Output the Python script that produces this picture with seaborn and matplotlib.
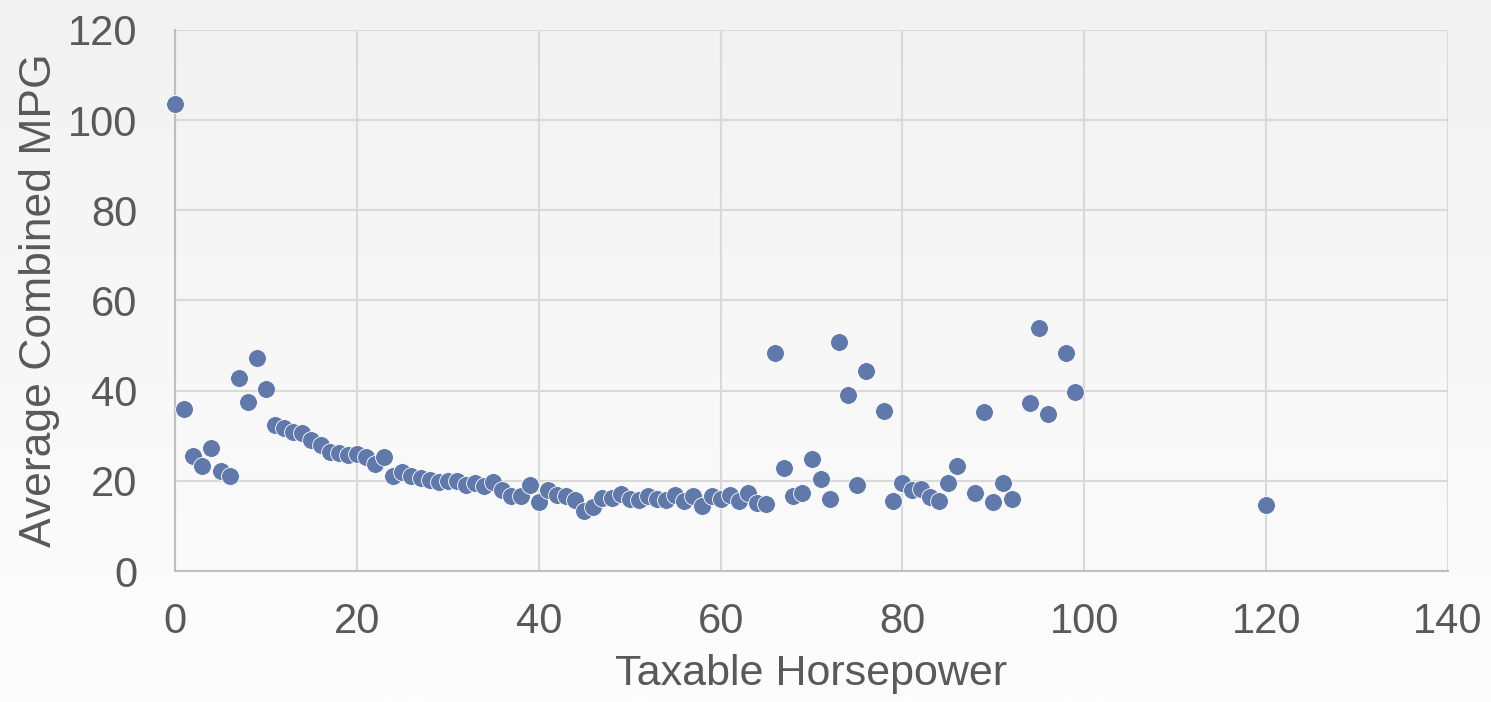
import numpy as np
import pandas as pd
import matplotlib.pyplot as plt
import seaborn as sns

# taxable horsepower vs average combined mpg
horsepower = [0, 1, 2, 3, 4, 5, 6, 7, 8, 9, 10, 11, 12, 13, 14, 15, 16, 17, 18, 19,
              20, 21, 22, 23, 24, 25, 26, 27, 28, 29, 30, 31, 32, 33, 34, 35, 36, 37, 38, 39,
              40, 41, 42, 43, 44, 45, 46, 47, 48, 49, 50, 51, 52, 53, 54, 55, 56, 57, 58, 59,
              60, 61, 62, 63, 64, 65, 66, 67, 68, 69, 70, 71, 72, 73, 74, 75, 76, 78, 79,
              80, 81, 82, 83, 84, 85, 86, 88, 89, 90, 91, 92, 94, 95, 96, 98, 99, 120]
mpg = [103.6, 35.9, 25.5, 23.2, 27.2, 22.1, 21.0, 42.7, 37.4, 47.2,
       40.3, 32.3, 31.7, 30.8, 30.6, 29.0, 27.9, 26.3, 26.1, 25.7,
       25.9, 25.2, 23.7, 25.2, 21.0, 21.9, 21.0, 20.6, 20.1, 19.7,
       19.9, 19.9, 19.0, 19.5, 18.8, 19.7, 17.9, 16.6, 16.6, 19.0,
       15.3, 17.9, 16.8, 16.6, 15.7, 13.3, 14.2, 16.2, 16.2, 17.0,
       15.9, 15.7, 16.6, 15.9, 15.7, 16.8, 15.5, 16.6, 14.4, 16.6,
       15.9, 16.8, 15.5, 17.3, 15.1, 14.8, 48.3, 22.8, 16.6, 17.3,
       24.8, 20.4, 15.9, 50.9, 39.0, 19.0, 44.3, 35.4, 15.5,
       19.5, 17.9, 18.2, 16.4, 15.5, 19.5, 23.2, 17.3, 35.2, 15.3,
       19.5, 15.9, 37.2, 53.8, 34.8, 48.3, 39.8, 14.6]

df = pd.DataFrame({"hp": horsepower, "mpg": mpg})

sns.set_theme(style="white")
plt.rcParams['font.family'] = ['Liberation Sans', 'DejaVu Sans']

fig = plt.figure(figsize=(14.91, 7.02), dpi=100)

# light vertical gradient behind everything
bg = fig.add_axes([0, 0, 1, 1], zorder=-1)
grad = np.linspace(0, 1, 256).reshape(-1, 1)
bg.imshow(grad, aspect="auto", cmap=plt.matplotlib.colors.LinearSegmentedColormap.from_list(
    "bg", ["#f2f2f2", "#fdfdfd"]), extent=[0, 1, 0, 1], origin="upper")
bg.axis("off")

ax = fig.add_axes([0.1174, 0.1866, 0.8538, 0.7707])
ax.set_facecolor("none")

sns.scatterplot(data=df, x="hp", y="mpg", ax=ax, color="#6078aa",
                s=165, linewidth=0.6, edgecolor="white", zorder=3, clip_on=False)

ax.set_xlim(0, 140)
ax.set_ylim(0, 120)
ax.set_xticks(range(0, 141, 20))
ax.set_yticks(range(0, 121, 20))
ax.grid(True, color="#d9d9d9", linewidth=1.5)
ax.set_axisbelow(True)

for side in ["top", "right"]:
    ax.spines[side].set_visible(False)
for side in ["left", "bottom"]:
    ax.spines[side].set_color("#bfbfbf")
    ax.spines[side].set_linewidth(1.5)

ax.tick_params(axis="both", labelsize=30, colors="#595959", length=0)
ax.tick_params(axis="x", pad=22)
ax.tick_params(axis="y", pad=27)
ax.set_xlabel("Taxable Horsepower", fontsize=31, color="#595959", labelpad=9)
ax.set_ylabel("Average Combined MPG", fontsize=32, color="#595959", labelpad=6)

fig.savefig("out.png", dpi=100)
